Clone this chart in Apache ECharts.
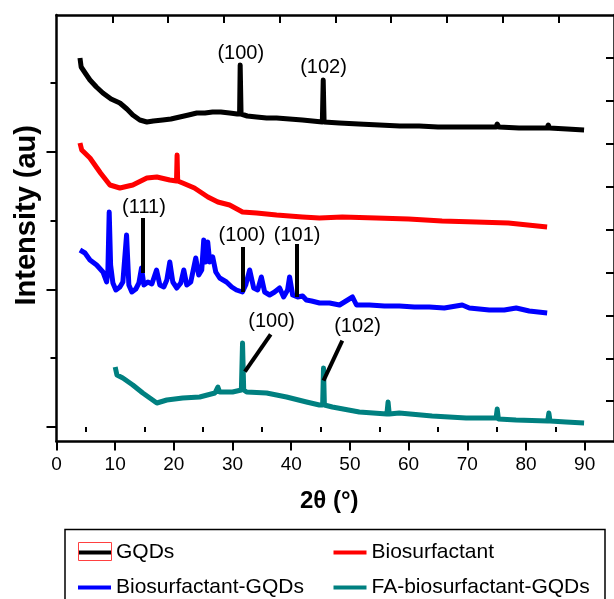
<!DOCTYPE html>
<html>
<head>
<meta charset="utf-8">
<script src="https://cdn.jsdelivr.net/npm/echarts@6/dist/echarts.min.js"></script>
<style>html,body{margin:0;padding:0;background:#fff;}#c{width:614px;height:599px;}</style>
</head>
<body>
<div id="c"></div>
<script>
// ---- data (2θ in degrees, intensity in arbitrary units, stacked offsets as in the figure) ----
const seriesNames = ['GQDs', 'Biosurfactant', 'Biosurfactant-GQDs', 'FA-biosurfactant-GQDs'];
const seriesColors = ['#000000', '#ff0000', '#0000ff', '#008080'];

const gqdsData = [[4.0,369],[4.2,360],[4.4,359],[5.0,353],[5.7,347],[6.8,340],[7.9,334],[9.3,328],[10.8,324],[12.0,318],[13.0,312],[14.2,307],[15.4,305],[16.5,306],[18.1,307],[19.5,308],[21.0,310],[22.5,312],[23.9,314],[25.3,314],[26.6,315],[28.0,315],[29.5,314],[30.8,313],[31.2,313],[31.3,362],[31.45,313],[32.5,311],[34.1,310],[35.8,309],[37.5,309],[39.7,308],[41.9,307],[43.6,306],[45.3,305],[45.45,347],[45.6,305],[48.2,304],[51.5,303],[55,302],[58.5,301],[61.8,301],[65,300],[68.6,300],[72,300],[74.9,300],[75.1,303],[75.4,300],[78.8,299],[81.5,299],[83.6,299],[83.8,302],[84.0,299],[87,298],[89.9,297]];

const biosurfactantData = [[4.0,284],[4.3,277],[5.7,269],[7.5,254],[9.1,242],[10.8,239],[13.0,242],[15.4,249],[17.1,250],[19.3,247],[20.45,246],[20.55,272],[20.65,246],[21.5,244],[23.5,239],[25.8,230],[27.5,225],[29.5,222],[31.7,215],[34.1,214],[37.5,212],[41.9,210],[44.8,209],[48.7,210],[54.5,209],[60,208],[65.7,206],[71.5,205],[77,204],[83.6,200]];

const bioGqdsData = [[4.0,177],[4.85,174],[5.7,167],[6.84,162],[7.91,155],[8.54,145],[8.76,157],[8.98,215],[9.22,162],[9.61,144],[10.12,137],[10.8,140],[11.31,145],[11.94,192],[12.33,142],[12.84,135],[13.52,138],[14.04,144],[14.49,159],[14.89,142],[15.57,145],[16.25,143],[17.05,157],[17.61,142],[18.29,140],[18.8,147],[19.31,165],[19.82,145],[20.5,139],[21.18,144],[21.69,157],[22.2,142],[22.88,145],[23.73,169],[24.24,152],[24.75,157],[25.09,187],[25.43,165],[25.77,185],[26.11,165],[26.62,170],[27.14,155],[27.81,149],[28.96,145],[29.86,140],[30.66,137],[31.68,135],[32.24,142],[32.92,157],[33.6,139],[34.28,137],[34.91,150],[35.47,135],[36.32,132],[37.17,135],[38.02,139],[38.7,130],[39.38,137],[39.72,150],[40.24,132],[41.09,130],[41.94,131],[42.57,127],[43.47,126],[44.83,124],[46.53,124],[48.23,122],[50.44,130],[51.12,122],[53.33,122],[55.88,121],[58.43,121],[60.98,120],[63.53,120],[66.08,119],[69.14,122],[70.35,119],[73.75,117],[76.3,117],[78.34,119],[80.55,116],[83.61,114]];

const faBioGqdsData = [[10.0,60],[10.3,52],[11.3,49],[13.0,42],[14.7,34],[17.1,24],[18.8,27],[21.5,29],[24.4,30],[27.0,34],[27.5,40],[27.8,35],[30.0,35],[31.5,37],[31.7,84],[31.9,37],[32.4,35],[35.8,34],[39.2,30],[42.6,25],[44.8,22],[45.35,22],[45.5,59],[45.65,22],[47.0,20],[51.6,15],[56.3,13],[56.5,25],[56.7,13],[58.4,14],[64.0,11],[69.8,9],[74.9,9],[75.1,18],[75.3,8],[78.3,7],[83.7,6],[83.9,14],[84.1,6],[86.8,5],[89.9,4]];

// peak annotations: label text and label centre [2θ, intensity]
const peakLabels = ['(100)', '(102)', '(111)', '(100)', '(101)', '(100)', '(102)'];
const peakLabelPos = [[31.4,374],[45.5,360],[14.9,220],[31.6,192],[41.0,192],[36.65,106],[51.3,101]];
// marker strokes: [start, end] in [2θ, intensity]
const markerLines = [
  [[14.65,209],[14.65,154]],
  [[31.7,180],[31.7,135]],
  [[41.0,183],[41.0,130]],
  [[36.5,92.7],[32.1,55.3]],
  [[48.7,86.3],[45.5,46.3]]
];

// axis ticks
const xMajorTicks = [0,10,20,30,40,50,60,70,80,90];
const xMinorTicks = [5,15,25,35,45,55,65,75,85];
const yMajorTicks = [0,137,275];
const yMinorTicks = [69,206,344];
const frameTicks = [1,2,3,4,5,6,7,8,9];

const FONT = '"Liberation Sans", Arial, sans-serif';

const chart = echarts.init(document.getElementById('c'), null, {renderer: 'canvas'});

const lineSeries = seriesNames.map((n, i) => ({
  name: n,
  type: 'line',
  data: [gqdsData, biosurfactantData, bioGqdsData, faBioGqdsData][i],
  xAxisIndex: 0, yAxisIndex: 0,
  showSymbol: false, symbol: 'none',
  lineStyle: {color: seriesColors[i], width: 5, join: 'round'},
  itemStyle: {color: seriesColors[i]},
  z: 2
}));

const legendText = {fontFamily: FONT, fontSize: 21, lineHeight: 20, color: '#000'};

const option = {
  animation: false,
  backgroundColor: '#fff',
  textStyle: {fontFamily: FONT},
  grid: {left: 56.5, right: -1, top: 15, bottom: 157.5, containLabel: false},
  xAxis: [
    {type: 'value', position: 'bottom', min: 0, max: 95,
     name: '2θ (°)', nameLocation: 'middle', nameGap: 48,
     nameTextStyle: {fontFamily: FONT, fontSize: 24, fontWeight: 'bold', color: '#000', padding: [0, 12, 0, 0]},
     axisLine: {show: true, onZero: false, lineStyle: {color: '#000', width: 2.5}},
     axisTick: {show: true, inside: false, length: 9, customValues: xMajorTicks, lineStyle: {color: '#000', width: 2}},
     axisLabel: {show: true, customValues: xMajorTicks, margin: 14, fontSize: 19, color: '#000', fontFamily: FONT},
     splitLine: {show: false}},
    {type: 'value', position: 'bottom', min: 0, max: 95,
     axisLine: {show: false},
     axisTick: {show: true, inside: false, length: 5, customValues: xMinorTicks, lineStyle: {color: '#000', width: 2}},
     axisLabel: {show: false}, splitLine: {show: false}},
    {type: 'value', position: 'top', min: 0, max: 10,
     axisLine: {show: true, onZero: false, lineStyle: {color: '#000', width: 2.5}},
     axisTick: {show: true, inside: true, length: 8, customValues: frameTicks, lineStyle: {color: '#000', width: 2}},
     axisLabel: {show: false}, splitLine: {show: false}}
  ],
  yAxis: [
    {type: 'value', position: 'left', min: -14.5, max: 412,
     name: 'Intensity (au)', nameLocation: 'middle', nameGap: 15, nameRotate: 90,
     nameTextStyle: {fontFamily: FONT, fontSize: 29, fontWeight: 'bold', color: '#000', padding: [0, 0, 0, 26]},
     axisLine: {show: true, onZero: false, lineStyle: {color: '#000', width: 2.5}},
     axisTick: {show: true, inside: false, length: 10, customValues: yMajorTicks, lineStyle: {color: '#000', width: 2}},
     axisLabel: {show: false}, splitLine: {show: false}},
    {type: 'value', position: 'left', min: -14.5, max: 412,
     axisLine: {show: false},
     axisTick: {show: true, inside: false, length: 6, customValues: yMinorTicks, lineStyle: {color: '#000', width: 2}},
     axisLabel: {show: false}, splitLine: {show: false}},
    {type: 'value', position: 'right', min: 0, max: 9.94, inverse: true,
     axisLine: {show: true, onZero: false, lineStyle: {color: '#000', width: 2.5}},
     axisTick: {show: true, inside: true, length: 8, customValues: frameTicks, lineStyle: {color: '#000', width: 2}},
     axisLabel: {show: false}, splitLine: {show: false}}
  ],
  legend: [
    {data: ['GQDs', 'Biosurfactant-GQDs'], left: 78, top: 542, width: 250, height: 100, padding: 0,
     orient: 'vertical', itemGap: 14, align: 'left',
     icon: 'rect', itemWidth: 33, itemHeight: 4, selectedMode: false, textStyle: legendText},
    {data: ['Biosurfactant', 'FA-biosurfactant-GQDs'], left: 333.5, top: 542, width: 270, height: 100, padding: 0,
     orient: 'vertical', itemGap: 14, align: 'left',
     icon: 'rect', itemWidth: 33, itemHeight: 4, selectedMode: false, textStyle: legendText}
  ],
  graphic: [
    {type: 'rect', shape: {x: 65, y: 529.5, width: 540, height: 90}, style: {fill: 'none', stroke: '#000', lineWidth: 1.5}, silent: true},
    {type: 'rect', shape: {x: 78.5, y: 542.5, width: 33, height: 18}, style: {fill: 'none', stroke: '#ff4040', lineWidth: 1}, silent: true, z: 100}
  ],
  series: lineSeries.concat([
    {type: 'lines', coordinateSystem: 'cartesian2d', xAxisIndex: 0, yAxisIndex: 0,
     data: markerLines.map(c => ({coords: c})),
     lineStyle: {color: '#000', width: 4, opacity: 1, curveness: 0},
     z: 5},
    {type: 'scatter', xAxisIndex: 0, yAxisIndex: 0, symbolSize: 1,
     itemStyle: {color: 'rgba(0,0,0,0)'},
     data: peakLabels.map((t, i) => ({name: t, value: peakLabelPos[i]})),
     label: {show: true, position: 'inside', formatter: '{b}', fontFamily: FONT, fontSize: 20,
             color: '#000', opacity: 1, textBorderWidth: 0, textBorderColor: 'transparent'},
     emphasis: {disabled: true},
     z: 6}
  ])
};
chart.setOption(option);
</script>
</body>
</html>
